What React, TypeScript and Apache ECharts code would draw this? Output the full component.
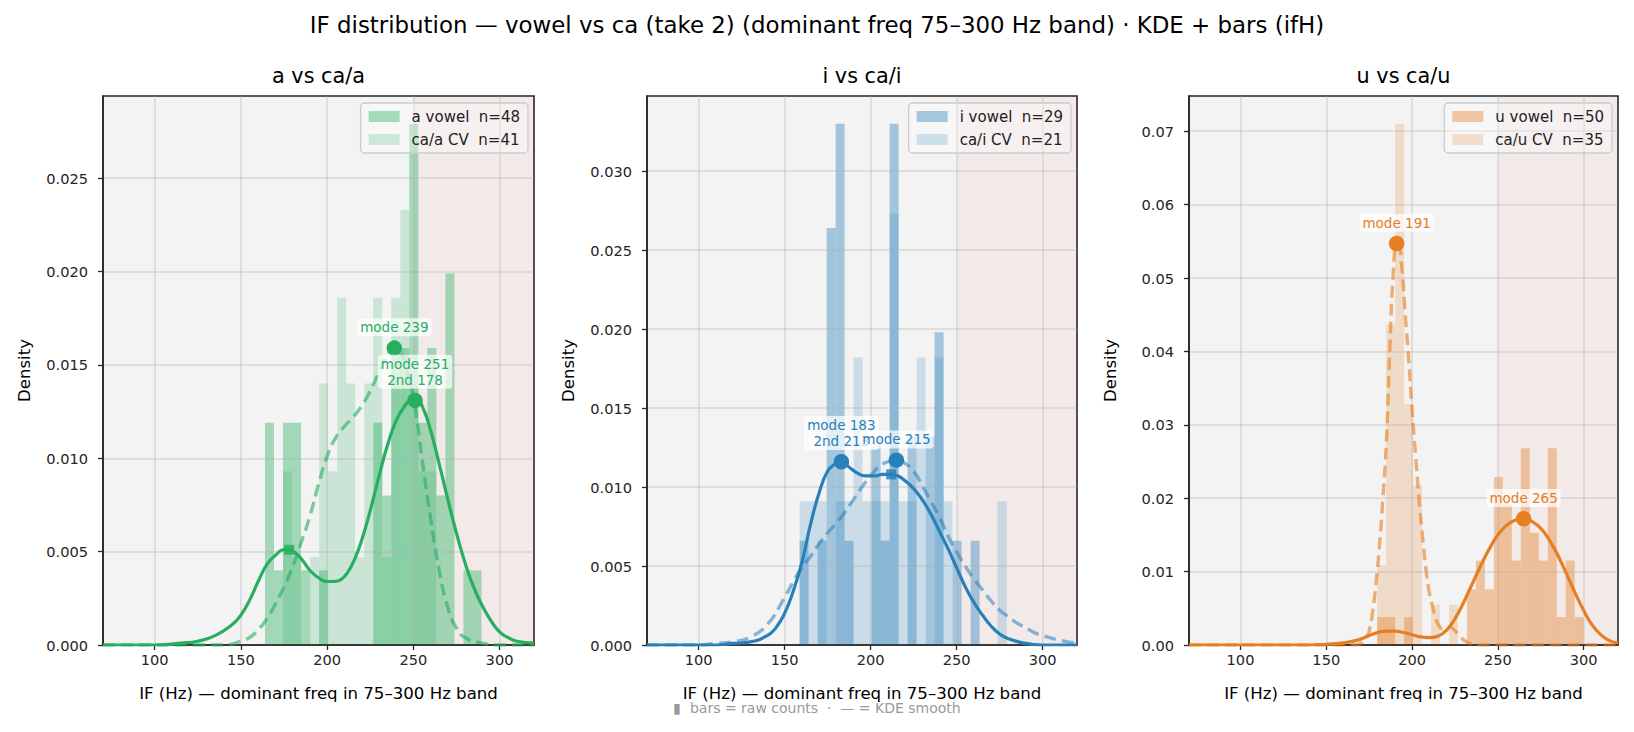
import React, { useEffect, useRef } from "react";
import * as echarts from "echarts";

const FONT = "DejaVu Sans";

const SUPTITLE = "IF distribution — vowel vs ca (take 2) (dominant freq 75–300 Hz band) · KDE + bars (ifH)";
const X_NAME = "IF (Hz) — dominant freq in 75–300 Hz band";
const FOOTNOTE = "▮  bars = raw counts  ·  — = KDE smooth";

// histogram bin left edges (Hz), shared by all panels
const BIN_EDGES = [158.72, 163.95, 169.19, 174.42, 179.65, 184.88, 190.12, 195.35, 200.58, 205.81, 211.05, 216.28, 221.51, 226.74, 231.98, 237.21, 242.44, 247.67, 252.91, 258.14, 263.37, 268.6, 273.84, 279.07, 284.3, 289.53, 294.77, 300.0];

// bar densities per bin
const A_VOWEL = [0, 0.0119, 0.004, 0.0119, 0.0119, 0.004, 0, 0.004, 0, 0, 0, 0, 0, 0.0119, 0.008, 0.0159, 0.0159, 0.0279, 0.0119, 0.0159, 0.008, 0.0199, 0, 0.004, 0.004, 0, 0];
const CA_A = [0, 0, 0, 0.0093, 0.0047, 0, 0.0047, 0.014, 0.0093, 0.0186, 0.014, 0.0047, 0.014, 0.0186, 0.0047, 0.0186, 0.0233, 0.014, 0.0093, 0.0093, 0, 0, 0, 0, 0, 0, 0];
const I_VOWEL = [0.0066, 0, 0.0066, 0.0264, 0.033, 0.0066, 0, 0, 0.0132, 0.0066, 0.033, 0, 0.0132, 0, 0.0132, 0.0198, 0, 0.0066, 0, 0.0066, 0, 0, 0, 0, 0, 0, 0];
const CA_I = [0.0091, 0.0091, 0.0091, 0, 0.0091, 0.0091, 0.0182, 0.0091, 0.0091, 0.0091, 0.0273, 0.0091, 0.0091, 0.0182, 0, 0.0182, 0.0091, 0, 0, 0, 0, 0, 0.0091, 0, 0, 0, 0];
const U_VOWEL = [0, 0, 0, 0, 0.0038, 0.0038, 0, 0.0038, 0, 0, 0, 0, 0, 0, 0.0076, 0.0115, 0.0076, 0.0229, 0.0191, 0.0115, 0.0268, 0.0153, 0.0115, 0.0268, 0.0038, 0.0115, 0.0038];
const CA_U = [0, 0, 0, 0, 0.0109, 0.0437, 0.071, 0.0328, 0.0218, 0, 0.0055, 0, 0.0055, 0, 0, 0, 0, 0, 0, 0, 0, 0, 0, 0, 0, 0, 0];

// KDE curves [Hz, density]
const KDE_A: number[][] = [[70, 0], [100, 0], [115, 0.0001], [125, 0.0002], [135, 0.0005], [145, 0.0011], [150, 0.0016], [155, 0.0024], [160, 0.0034], [165, 0.0043], [170, 0.0048], [175, 0.0051], [178, 0.0051], [182, 0.0049], [186, 0.0045], [190, 0.004], [195, 0.0036], [200, 0.0034], [204, 0.0034], [208, 0.0035], [212, 0.0039], [216, 0.0046], [220, 0.0056], [225, 0.0072], [230, 0.009], [235, 0.0107], [240, 0.012], [245, 0.0128], [249, 0.0131], [252, 0.0131], [256, 0.0126], [260, 0.0115], [265, 0.0097], [270, 0.0078], [275, 0.006], [280, 0.0044], [285, 0.0031], [290, 0.0021], [295, 0.0013], [300, 0.0007], [305, 0.0004], [310, 0.0002], [320, 0.0001]];
const KDE_CA_A: number[][] = [[70, 0], [140, 0], [150, 0.0002], [155, 0.0004], [160, 0.0008], [165, 0.0014], [170, 0.0022], [175, 0.0031], [180, 0.0042], [185, 0.0055], [190, 0.0069], [195, 0.0086], [200, 0.0101], [205, 0.0111], [210, 0.0117], [215, 0.0122], [220, 0.0128], [225, 0.0136], [230, 0.0146], [235, 0.0155], [239, 0.0159], [243, 0.0156], [247, 0.0145], [251, 0.0127], [255, 0.01], [260, 0.0068], [265, 0.004], [270, 0.002], [275, 0.0009], [280, 0.0004], [290, 0.0001], [300, 0], [320, 0]];
const KDE_I: number[][] = [[70, 0], [110, 0], [120, 0.0001], [130, 0.0002], [140, 0.0006], [145, 0.0011], [150, 0.002], [155, 0.0034], [160, 0.0052], [165, 0.0076], [170, 0.0096], [175, 0.011], [180, 0.0115], [183, 0.0116], [187, 0.0113], [192, 0.0109], [197, 0.0107], [202, 0.0107], [207, 0.0108], [212, 0.0108], [216, 0.0107], [220, 0.0104], [225, 0.0099], [230, 0.0092], [235, 0.0083], [240, 0.0072], [245, 0.0061], [250, 0.0049], [255, 0.0037], [260, 0.0027], [265, 0.0019], [270, 0.0012], [275, 0.0007], [280, 0.0004], [290, 0.0001], [300, 0], [320, 0]];
const KDE_CA_I: number[][] = [[70, 0], [100, 0], [110, 0.0001], [120, 0.0002], [130, 0.0005], [140, 0.0013], [150, 0.003], [155, 0.004], [160, 0.0049], [165, 0.0056], [170, 0.0064], [175, 0.0071], [180, 0.0077], [185, 0.0084], [190, 0.0092], [195, 0.01], [200, 0.0107], [205, 0.0113], [210, 0.0116], [215, 0.0117], [220, 0.0115], [225, 0.011], [230, 0.0101], [235, 0.0091], [240, 0.0081], [245, 0.0069], [250, 0.0059], [255, 0.005], [260, 0.0042], [265, 0.0035], [270, 0.0028], [275, 0.0022], [280, 0.0018], [285, 0.0014], [290, 0.0011], [295, 0.0008], [300, 0.0006], [310, 0.0003], [320, 0.0001]];
const KDE_U: number[][] = [[70, 0], [140, 0], [150, 0.0001], [160, 0.0003], [165, 0.0005], [170, 0.0008], [175, 0.0013], [180, 0.0017], [185, 0.0019], [190, 0.0019], [195, 0.0017], [200, 0.0014], [205, 0.0011], [210, 0.001], [215, 0.0012], [220, 0.002], [225, 0.0036], [230, 0.0058], [235, 0.0083], [240, 0.0108], [245, 0.0131], [250, 0.015], [255, 0.0163], [260, 0.017], [265, 0.0172], [270, 0.0168], [275, 0.0159], [280, 0.0143], [285, 0.0122], [290, 0.0097], [295, 0.0071], [300, 0.0047], [305, 0.0027], [310, 0.0014], [315, 0.0006], [320, 0.0003]];
const KDE_CA_U: number[][] = [[70, 0], [165, 0], [170, 0.0002], [173, 0.0008], [175, 0.002], [177, 0.0045], [179, 0.0085], [181, 0.0135], [183, 0.02], [185, 0.0275], [187, 0.04], [189, 0.0505], [191, 0.0545], [192, 0.0545], [194, 0.0515], [196, 0.045], [198, 0.039], [200, 0.032], [202, 0.026], [204, 0.02], [206, 0.015], [208, 0.0105], [210, 0.0072], [212, 0.0052], [215, 0.0029], [218, 0.0022], [221, 0.0025], [224, 0.0022], [227, 0.0014], [230, 0.0007], [234, 0.0002], [240, 0], [320, 0]];

// tick values
const X_TICKS = [100, 150, 200, 250, 300];
const Y_TICKS_A = [0, 0.005, 0.01, 0.015, 0.02, 0.025];
const Y_TICKS_I = [0, 0.005, 0.01, 0.015, 0.02, 0.025, 0.03];
const Y_TICKS_U = [0, 0.01, 0.02, 0.03, 0.04, 0.05, 0.06, 0.07];

// mode annotations
const MODES_A = [{ at: [251, 0.0131], text: "mode 251\n2nd 178" }, { at: [239, 0.0159], text: "mode 239" }];
const MODES_I = [{ at: [183, 0.0116], text: "mode 183\n2nd 213" }, { at: [215, 0.0117], text: "mode 215" }];
const MODES_U = [{ at: [265, 0.0172], text: "mode 265" }, { at: [191, 0.0547], text: "mode 191" }];
const SECOND_A = [[178, 0.0051]];
const SECOND_I = [[212, 0.0108]];
const SECOND_U: number[][] = [];

const F1_ZONE = [250, 320];
const F1_TEXT = "F1 risk\nzone";

const PANELS = [
  { title: "a vs ca/a", rgb: "39,174,96", vowel: "a vowel  n=48", cv: "ca/a CV  n=41", vBars: A_VOWEL, cBars: CA_A, vKde: KDE_A, cKde: KDE_CA_A, yMax: 0.0294, yTicks: Y_TICKS_A, interval: 0.005, dec: 3, modes: MODES_A, second: SECOND_A, dashAlpha: 0.6 },
  { title: "i vs ca/i", rgb: "41,128,185", vowel: "i vowel  n=29", cv: "ca/i CV  n=21", vBars: I_VOWEL, cBars: CA_I, vKde: KDE_I, cKde: KDE_CA_I, yMax: 0.03475, yTicks: Y_TICKS_I, interval: 0.005, dec: 3, modes: MODES_I, second: SECOND_I, dashAlpha: 0.55 },
  { title: "u vs ca/u", rgb: "230,126,34", vowel: "u vowel  n=50", cv: "ca/u CV  n=35", vBars: U_VOWEL, cBars: CA_U, vKde: KDE_U, cKde: KDE_CA_U, yMax: 0.0748, yTicks: Y_TICKS_U, interval: 0.01, dec: 2, modes: MODES_U, second: SECOND_U, dashAlpha: 0.6 },
];

const GRIDS = [
  { left: 103, top: 96, width: 431, height: 549 },
  { left: 647, top: 96, width: 430, height: 549 },
  { left: 1189, top: 96, width: 429, height: 549 },
];

function barData(dens: number[]) {
  const out: number[][] = [];
  dens.forEach((d, i) => {
    if (d > 0) out.push([BIN_EDGES[i], BIN_EDGES[i + 1], d]);
  });
  return out;
}

function barRender(fill: string) {
  return (params: any, api: any) => {
    const tl = api.coord([api.value(0), api.value(2)]);
    const br = api.coord([api.value(1), 0]);
    return {
      type: "rect",
      shape: { x: tl[0], y: tl[1], width: br[0] - tl[0], height: br[1] - tl[1] },
      style: { fill },
    };
  };
}

function zoneRender(params: any, api: any) {
  const cs = params.coordSys;
  const a = api.coord([api.value(0), 0]);
  const b = api.coord([api.value(1), 0]);
  return {
    type: "rect",
    shape: { x: a[0], y: cs.y, width: b[0] - a[0], height: cs.height },
    style: { fill: "rgba(231,76,60,0.05)" },
  };
}

export default function App() {
  const ref = useRef<HTMLDivElement>(null);
  useEffect(() => {
    if (!ref.current) return;
    const chart = echarts.init(ref.current, undefined, { renderer: "svg" });
    const axisColor = "#262626";
    const xAxes: any[] = [];
    const yAxes: any[] = [];
    const series: any[] = [];
    const legends: any[] = [];
    const graphics: any[] = [];

    PANELS.forEach((p, i) => {
      const g = GRIDS[i];
      const color = `rgb(${p.rgb})`;
      xAxes.push({
        gridIndex: i, type: "value", min: 70, max: 320, splitNumber: 5, z: 3,
        axisLine: { show: true, onZero: false, lineStyle: { color: axisColor, width: 1.6 } },
        axisTick: { show: true, length: 5, customValues: X_TICKS, lineStyle: { color: axisColor, width: 1.3 } },
        axisLabel: { customValues: X_TICKS, color: axisColor, fontSize: 14.6, fontFamily: FONT, margin: 7 },
        splitLine: { show: true, lineStyle: { color: "rgba(176,176,176,0.4)", width: 1.5 } },
        name: X_NAME, nameLocation: "middle", nameGap: 40,
        nameTextStyle: { fontSize: 16.6, fontFamily: FONT, color: "#000" },
      });
      yAxes.push({
        gridIndex: i, type: "value", min: 0, max: p.yMax, interval: p.interval, z: 3,
        axisLine: { show: true, lineStyle: { color: axisColor, width: 1.6 } },
        axisTick: { show: true, length: 5, customValues: p.yTicks, lineStyle: { color: axisColor, width: 1.3 } },
        axisLabel: { customValues: p.yTicks, color: axisColor, fontSize: 14.6, fontFamily: FONT, margin: 15, formatter: (v: number) => v.toFixed(p.dec) },
        splitLine: { show: true, lineStyle: { color: "rgba(176,176,176,0.4)", width: 1.5 } },
        name: "Density", nameLocation: "middle", nameGap: 70,
        nameTextStyle: { fontSize: 16.6, fontFamily: FONT, color: "#000" },
      });

      series.push({
        type: "custom", name: `zone${i}`, xAxisIndex: i, yAxisIndex: i, z: 1, silent: true,
        renderItem: zoneRender, data: [F1_ZONE], encode: { x: [0, 1] }, clip: true,
      });
      series.push({
        type: "custom", name: p.vowel, xAxisIndex: i, yAxisIndex: i, z: 2,
        itemStyle: { color: `rgba(${p.rgb},0.4)` },
        renderItem: barRender(`rgba(${p.rgb},0.4)`), data: barData(p.vBars),
        encode: { x: [0, 1], y: 2 }, clip: true,
      });
      series.push({
        type: "custom", name: p.cv, xAxisIndex: i, yAxisIndex: i, z: 2,
        itemStyle: { color: `rgba(${p.rgb},0.2)` },
        renderItem: barRender(`rgba(${p.rgb},0.2)`), data: barData(p.cBars),
        encode: { x: [0, 1], y: 2 }, clip: true,
      });
      series.push({
        type: "line", name: `${p.vowel} KDE`, xAxisIndex: i, yAxisIndex: i, z: 4,
        data: p.vKde, showSymbol: false, smooth: 0.5,
        lineStyle: { color, width: 3.2 }, itemStyle: { color },
      });
      series.push({
        type: "line", name: `${p.cv} KDE`, xAxisIndex: i, yAxisIndex: i, z: 4,
        data: p.cKde, showSymbol: false, smooth: 0.5,
        lineStyle: { color, width: 3.4, type: [12, 6], opacity: p.dashAlpha }, itemStyle: { color },
      });
      series.push({
        type: "scatter", name: `f1text${i}`, xAxisIndex: i, yAxisIndex: i, z: 3, silent: true,
        symbolSize: 1, itemStyle: { opacity: 0 }, data: [[276, p.yMax * 0.93]],
        label: { show: true, position: "inside", formatter: F1_TEXT, color: "rgba(231,76,60,0.3)", fontSize: 11, lineHeight: 12, fontFamily: FONT },
      });
      if (p.second.length) {
        series.push({
          type: "scatter", name: `second${i}`, xAxisIndex: i, yAxisIndex: i, z: 5,
          symbol: "rect", symbolSize: 10, data: p.second, itemStyle: { color, opacity: 0.85 },
        });
      }
      series.push({
        type: "scatter", name: `modes${i}`, xAxisIndex: i, yAxisIndex: i, z: 5,
        symbol: "circle", symbolSize: 15.5, itemStyle: { color, opacity: 1 },
        data: p.modes.map((m) => ({ value: m.at, label: { formatter: m.text } })),
        label: {
          show: true, position: "top", distance: 4, color, fontSize: 13.5, lineHeight: 16, fontFamily: FONT,
          backgroundColor: "rgba(255,255,255,0.7)", padding: [1, 3, 1, 3], borderRadius: 3,
        },
      });

      legends.push({
        data: [p.vowel, p.cv], orient: "vertical", right: 1634 - (g.left + g.width - 6), top: 103,
        itemWidth: 31, itemHeight: 11, itemGap: 8, icon: "rect", selectedMode: false, z: 6,
        padding: [6, 8, 6, 8], backgroundColor: "rgba(255,255,255,0.35)",
        borderColor: "#cccccc", borderWidth: 1.3, borderRadius: 4,
        textStyle: { fontSize: 15, fontFamily: FONT, color: "#222", padding: [0, 0, 0, 7] },
      });

      graphics.push({
        type: "text", x: g.left + g.width / 2, y: 76,
        style: { text: p.title, fontSize: 20.8, fontFamily: FONT, fill: "#000", align: "center", verticalAlign: "middle", textAlign: "center", textVerticalAlign: "middle" },
      });
    });

    graphics.push({
      type: "text", x: 817, y: 25,
      style: { text: SUPTITLE, fontSize: 22.9, fontFamily: FONT, fill: "#000", align: "center", verticalAlign: "middle", textAlign: "center", textVerticalAlign: "middle" },
    });
    graphics.push({
      type: "text", x: 817, y: 708,
      style: { text: FOOTNOTE, fontSize: 14, fontFamily: FONT, fill: "#999999", align: "center", verticalAlign: "middle", textAlign: "center", textVerticalAlign: "middle" },
    });

    chart.setOption({
      animation: false,
      backgroundColor: "#ffffff",
      textStyle: { fontFamily: FONT },
      grid: GRIDS.map((g) => ({ ...g, show: true, backgroundColor: "#f3f3f3", borderColor: axisColor, borderWidth: 1.6, containLabel: false })),
      xAxis: xAxes,
      yAxis: yAxes,
      legend: legends,
      series,
      graphic: graphics,
    });
    return () => chart.dispose();
  }, []);
  return <div ref={ref} style={{ position: "absolute", left: 0, top: 0, width: 1634, height: 732 }} />;
}
